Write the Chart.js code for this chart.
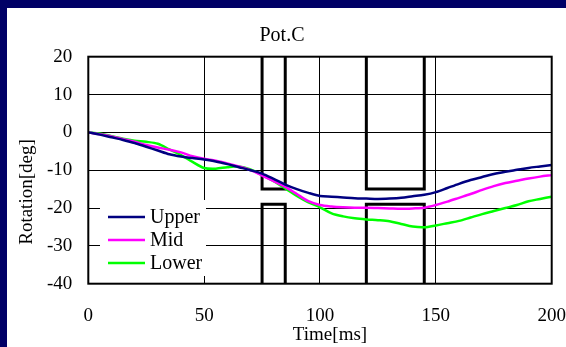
<!DOCTYPE html>
<html>
<head>
<meta charset="utf-8">
<script src="https://cdn.jsdelivr.net/npm/chart.js@4/dist/chart.umd.min.js"></script>
<style>
  html, body { margin: 0; padding: 0; background: #000066; width: 566px; height: 347px; overflow: hidden; }
  #wrap { position: absolute; left: 7px; top: 8px; width: 559px; height: 339px; background: #ffffff; }
  canvas { display: block; }
</style>
</head>
<body>
<div id="wrap"><canvas id="c" width="559" height="339"></canvas></div>
<script>
// ---- data ----
const timeMs = [0,5,10,15,20,25,30,35,40,45,50,55,60,65,70,75,80,85,90,95,100,105,110,115,120,125,130,135,140,145,150,155,160,165,170,175,180,185,190,195,200];
const upperValues = [0,-0.6,-1.3,-2.0,-2.8,-3.8,-4.8,-5.8,-6.4,-6.8,-7.2,-7.7,-8.4,-9.2,-10.0,-10.9,-12.3,-13.8,-15.0,-16.0,-16.8,-17.0,-17.2,-17.4,-17.5,-17.6,-17.5,-17.3,-16.9,-16.5,-15.8,-14.7,-13.6,-12.6,-11.8,-11.0,-10.4,-9.9,-9.4,-9.0,-8.6];
const midValues = [0,-0.5,-1.1,-1.8,-2.5,-3.3,-4.0,-4.6,-5.3,-6.3,-7.0,-7.5,-8.2,-9.0,-10.0,-11.4,-12.9,-14.4,-16.3,-18.2,-19.2,-19.6,-19.8,-19.9,-19.9,-20.0,-20.1,-20.2,-20.1,-19.9,-19.2,-18.3,-17.3,-16.3,-15.2,-14.2,-13.4,-12.8,-12.2,-11.7,-11.3];
const lowerValues = [0,-0.3,-1.0,-1.7,-2.2,-2.5,-3.0,-4.5,-6.0,-7.8,-9.4,-9.6,-9.2,-9.0,-9.8,-11.3,-12.9,-14.8,-16.8,-18.5,-19.8,-21.4,-22.2,-22.7,-23.0,-23.2,-23.5,-24.2,-24.9,-25.1,-24.6,-24.0,-23.4,-22.5,-21.6,-20.8,-20.0,-19.2,-18.2,-17.6,-17.0];
const seriesLabels = ["Upper", "Mid", "Lower"];
const seriesColors = ["#000080", "#FF00FF", "#00FF00"];
const windowStarts = [75, 120];
const windowEnds = [85, 145];
const windowUpperLimit = -15;
const windowLowerLimit = -19;
const xTicks = [0, 50, 100, 150, 200];
const yTicks = [20, 10, 0, -10, -20, -30, -40];
const chartTitle = "Pot.C";
const xTitle = "Time[ms]";
const yTitle = "Rotation[deg]";

const FONT = "'Liberation Serif', 'Times New Roman', serif";
Chart.defaults.font.family = FONT;
Chart.defaults.color = "#000";

const yMax = yTicks[0], yMin = yTicks[yTicks.length - 1];
const xMin = xTicks[0], xMax = xTicks[xTicks.length - 1];

function toPoints(xs, ys) { return xs.map((x, i) => ({ x: x, y: ys[i] })); }

const datasets = [];
[upperValues, midValues, lowerValues].forEach((vals, i) => {
  datasets.push({
    label: seriesLabels[i],
    data: toPoints(timeMs, vals),
    borderColor: seriesColors[i],
    backgroundColor: seriesColors[i],
    borderWidth: 2.5,
    pointRadius: 0,
    tension: 0.3,
    order: 0,
    isSeries: true
  });
});
windowStarts.forEach((s, i) => {
  const e = windowEnds[i];
  datasets.push({
    label: "win" + i + "a",
    data: [{x: s, y: yMax}, {x: s, y: windowUpperLimit}, {x: e, y: windowUpperLimit}, {x: e, y: yMax}],
    borderColor: "#000", borderWidth: 3, pointRadius: 0, tension: 0, order: 1, isSeries: false
  });
  datasets.push({
    label: "win" + i + "b",
    data: [{x: s, y: yMin}, {x: s, y: windowLowerLimit}, {x: e, y: windowLowerLimit}, {x: e, y: yMin}],
    borderColor: "#000", borderWidth: 3, pointRadius: 0, tension: 0, order: 1, isSeries: false
  });
});

const decor = {
  id: 'decor',
  afterDatasetsDraw(chart) {
    const ctx = chart.ctx, a = chart.chartArea;
    ctx.save();
    ctx.strokeStyle = '#000';
    ctx.lineWidth = 2;
    ctx.strokeRect(a.left, a.top, a.right - a.left, a.bottom - a.top);
    // legend box
    const lx = a.left + 11.7, ly = a.top + 143.3, lw = 106, lh = 76;
    ctx.fillStyle = '#fff';
    ctx.fillRect(lx, ly, lw, lh);
    ctx.font = "20px " + FONT;
    ctx.textBaseline = 'middle';
    ctx.textAlign = 'left';
    const sets = chart.data.datasets.filter(d => d.isSeries);
    sets.forEach((d, i) => {
      const yy = ly + 17 + i * 23;
      ctx.strokeStyle = d.borderColor;
      ctx.lineWidth = 2.5;
      ctx.beginPath();
      ctx.moveTo(lx + 8, yy);
      ctx.lineTo(lx + 45, yy);
      ctx.stroke();
      ctx.fillStyle = '#000';
      ctx.fillText(d.label, lx + 50, yy + 1);
    });
    ctx.restore();
  },
  afterDraw(chart) {
    const ctx = chart.ctx;
    ctx.save();
    ctx.fillStyle = '#000';
    ctx.textAlign = 'center';
    ctx.textBaseline = 'middle';
    ctx.font = "20px " + FONT;
    ctx.fillText(chartTitle, 275, 28);
    ctx.font = "19px " + FONT;
    ctx.fillText(xTitle, 323, 327);
    ctx.translate(20, 184);
    ctx.rotate(-Math.PI / 2);
    ctx.fillText(yTitle, 0, 0);
    ctx.restore();
  }
};

new Chart(document.getElementById('c'), {
  type: 'line',
  data: { datasets: datasets },
  options: {
    responsive: false,
    animation: false,
    layout: { padding: { top: 48.7, right: 14.3, left: 0, bottom: 0 } },
    plugins: { legend: { display: false }, title: { display: false }, tooltip: { enabled: false } },
    scales: {
      x: {
        type: 'linear', min: xMin, max: xMax,
        afterBuildTicks(scale) { scale.ticks = xTicks.map(v => ({ value: v })); },
        afterFit(scale) { scale.height = 63.3; },
        ticks: { font: { size: 19, family: FONT }, color: '#000', padding: 0, maxRotation: 0, autoSkip: false },
        grid: { color: '#000', lineWidth: 1, drawTicks: true, tickLength: 21, tickColor: 'rgba(0,0,0,0)' },
        border: { display: false }
      },
      y: {
        type: 'linear', min: yMin, max: yMax,
        afterBuildTicks(scale) { scale.ticks = yTicks.map(v => ({ value: v })); },
        afterFit(scale) { scale.width = 81.3; },
        ticks: { font: { size: 19, family: FONT }, color: '#000', padding: 0, autoSkip: false },
        grid: { color: '#000', lineWidth: 1, drawTicks: true, tickLength: 16, tickColor: 'rgba(0,0,0,0)' },
        border: { display: false }
      }
    }
  },
  plugins: [decor]
});
</script>
</body>
</html>
